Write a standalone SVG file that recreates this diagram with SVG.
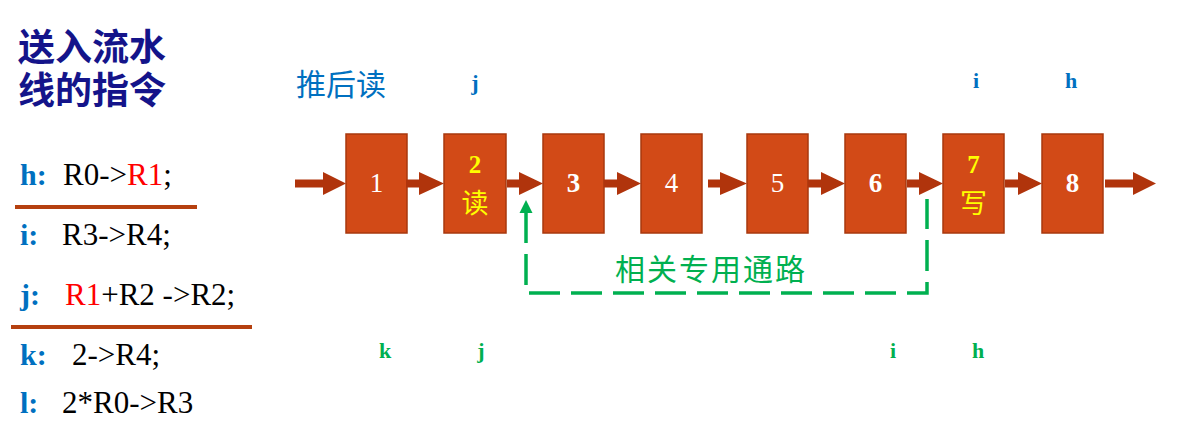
<svg xmlns="http://www.w3.org/2000/svg" width="1188" height="430" viewBox="0 0 1188 430">
<defs>
<style>
.title{font-family:"Liberation Sans","Noto Sans CJK SC",sans-serif;font-weight:bold;font-size:37px;fill:#14148a}
.lbl{font-family:"Liberation Serif",serif;font-weight:bold;font-size:30px;fill:#0070c0}
.code{font-family:"Liberation Serif",serif;font-size:31px;fill:#000}
.red{fill:#ff0000}
.sep{stroke:#b5400f;stroke-width:4}
.box{fill:#d24a17;stroke:#a8380e;stroke-width:1.5}
.num{font-family:"Liberation Serif",serif;font-size:27px;fill:#fff;text-anchor:middle}
.ynum{font-family:"Liberation Serif",serif;font-weight:bold;font-size:25px;fill:#ffff00;text-anchor:middle}
.ycn{font-family:"Noto Sans CJK SC",sans-serif;font-size:27px;fill:#ffff00;text-anchor:middle}
.arr{fill:#b0340c}
.tb{font-family:"Liberation Serif",serif;font-weight:bold;font-size:22px;fill:#0070c0;text-anchor:middle}
.bg{font-family:"Liberation Serif",serif;font-weight:bold;font-size:22px;fill:#00b050;text-anchor:middle}
.cnblue{font-family:"Noto Sans CJK SC",sans-serif;font-size:30px;fill:#0070c0}
.cngreen{font-family:"Noto Sans CJK SC",sans-serif;font-size:30px;fill:#00b050}
.dash{fill:none;stroke:#00b050;stroke-width:3.5;stroke-dasharray:31 11}
</style>
</defs>
<g id="instructions">
<text class="title" x="18" y="61">送入流水</text>
<text class="title" x="18" y="104">线的指令</text>
<text class="lbl" x="20" y="185">h:</text>
<text class="code" x="63" y="185">R0-&gt;<tspan class="red">R1</tspan>;</text>
<line class="sep" x1="15" y1="207" x2="197" y2="207"/>
<text class="lbl" x="20" y="245">i:</text>
<text class="code" x="62" y="245">R3-&gt;R4;</text>
<text class="lbl" x="20" y="305">j:</text>
<text class="code" x="65" y="305"><tspan class="red">R1</tspan>+R2 -&gt;R2;</text>
<line class="sep" x1="11" y1="327" x2="252" y2="327"/>
<text class="lbl" x="20" y="365">k:</text>
<text class="code" x="72" y="365">2-&gt;R4;</text>
<text class="lbl" x="20" y="413">l:</text>
<text class="code" x="62" y="413">2*R0-&gt;R3</text>
</g>
<g id="label-tuihoudu"><text class="cnblue" x="296" y="95">推后读</text></g>
<g id="top-labels">
<text class="tb" x="475" y="90">j</text>
<text class="tb" x="976" y="88">i</text>
<text class="tb" x="1071" y="88">h</text>
</g>
<g id="bottom-labels">
<text class="bg" x="385" y="358">k</text>
<text class="bg" x="481" y="358">j</text>
<text class="bg" x="893" y="358">i</text>
<text class="bg" x="978" y="358">h</text>
</g>
<g id="stage1"><rect class="box" x="346" y="134" width="61" height="99"/><text class="num" x="376.5" y="192">1</text></g>
<g id="stage2"><rect class="box" x="444" y="134" width="62" height="99"/><text class="ynum" x="475" y="173">2</text><text class="ycn" x="475" y="213">读</text></g>
<g id="stage3"><rect class="box" x="543" y="134" width="61" height="99"/><text class="num" x="573.5" y="192" font-weight="bold">3</text></g>
<g id="stage4"><rect class="box" x="641" y="134" width="61" height="99"/><text class="num" x="671.5" y="192">4</text></g>
<g id="stage5"><rect class="box" x="747" y="134" width="61" height="99"/><text class="num" x="777.5" y="192">5</text></g>
<g id="stage6"><rect class="box" x="845" y="134" width="61" height="99"/><text class="num" x="875.5" y="192" font-weight="bold">6</text></g>
<g id="stage7"><rect class="box" x="943" y="134" width="61" height="99"/><text class="ynum" x="973.5" y="173">7</text><text class="ycn" x="973.5" y="213">写</text></g>
<g id="stage8"><rect class="box" x="1042" y="134" width="61" height="99"/><text class="num" x="1072.5" y="192" font-weight="bold">8</text></g>
<g id="connectors">
<path class="arr" d="M295 179.5H323V172L346 183.5L323 195V187.5H295Z"/>
<path class="arr" d="M406 179.5H419V172L444 183.5L419 195V187.5H406Z"/>
<path class="arr" d="M507 179.5H519V172L543 183.5L519 195V187.5H507Z"/>
<path class="arr" d="M604 179.5H617V172L641 183.5L617 195V187.5H604Z"/>
<path class="arr" d="M708 179.5H720V172L747 183.5L720 195V187.5H708Z"/>
<path class="arr" d="M808 179.5H821V172L845 183.5L821 195V187.5H808Z"/>
<path class="arr" d="M907 179.5H919V172L943 183.5L919 195V187.5H907Z"/>
<path class="arr" d="M1005 179.5H1018V172L1042 183.5L1018 195V187.5H1005Z"/>
<path class="arr" d="M1105 179.5H1133V172L1156 183.5L1133 195V187.5H1105Z"/>
<path class="dash" d="M526 212V293H927V199"/>
<path d="M519.5 213L526 200L532.5 213Z" fill="#00b050"/>
</g>
<g id="label-path"><text class="cngreen" x="615" y="280" letter-spacing="2">相关专用通路</text></g>
</svg>
